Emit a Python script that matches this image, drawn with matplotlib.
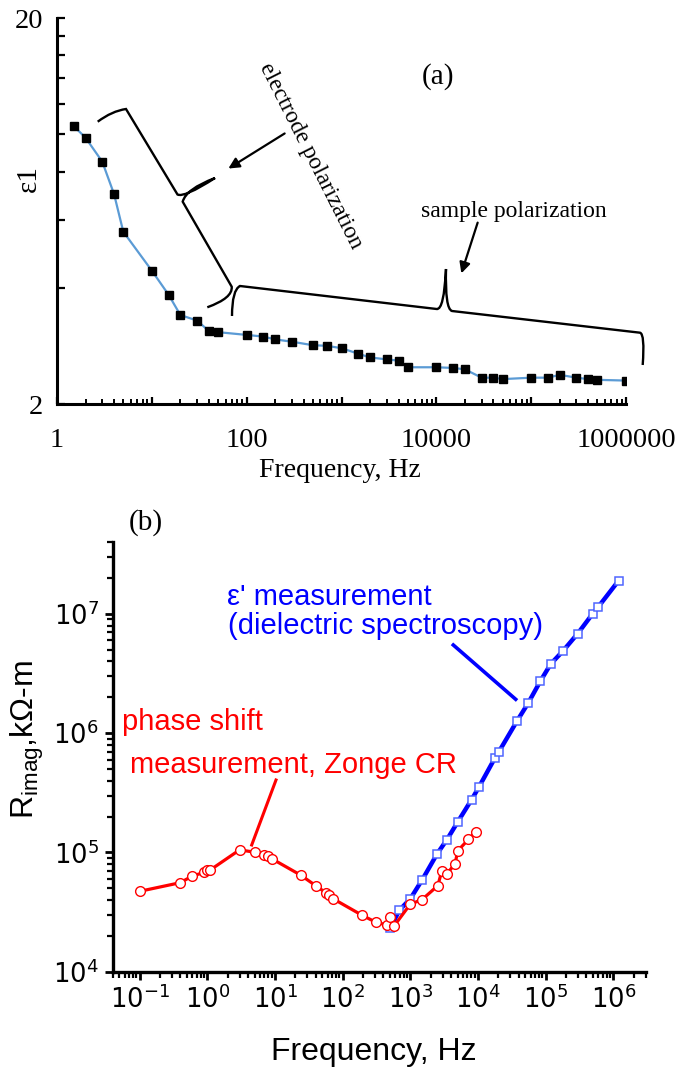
import matplotlib
matplotlib.use('Agg')
import matplotlib.pyplot as plt
import numpy as np
from matplotlib.path import Path
from matplotlib.patches import PathPatch, FancyArrowPatch
from matplotlib.lines import Line2D
from matplotlib.ticker import FixedLocator, NullFormatter, FuncFormatter, LogFormatterMathtext

plt.rcParams['mathtext.fontset'] = 'custom'
plt.rcParams['mathtext.rm'] = 'Liberation Sans'
plt.rcParams['mathtext.it'] = 'Liberation Sans:italic'
plt.rcParams['mathtext.bf'] = 'Liberation Sans:bold'

W, H = 692, 1069
SERIF = 'Liberation Serif'
SANS = 'Liberation Sans'

# ---------------- data: panel (a) ----------------
freq_a = [1.5, 2, 3, 4, 5, 10, 15, 20, 30, 40, 50, 100, 150, 200, 300, 500, 700,
          1000, 1500, 2000, 3000, 4000, 5000, 1e4, 1.5e4, 2e4, 3e4, 4e4, 5e4,
          1e5, 1.5e5, 2e5, 3e5, 4e5, 5e5, 1e6]
eps1 = [10.5, 9.79, 8.49, 6.99, 5.59, 4.43, 3.84, 3.40, 3.29, 3.09, 3.07, 3.02,
        2.99, 2.94, 2.90, 2.84, 2.83, 2.79, 2.70, 2.64, 2.61, 2.59, 2.49, 2.49,
        2.48, 2.46, 2.34, 2.34, 2.32, 2.34, 2.34, 2.38, 2.34, 2.32, 2.31, 2.30]
a_xticks_major = [1, 10, 100, 1000, 1e4, 1e5, 1e6]
a_yticks_major = [2, 20]
a_yticks_minor = [4, 6, 8, 10, 12, 14, 16, 18]

# ---------------- data: panel (b) ----------------
freq_zonge = [0.1, 0.4, 0.6, 0.9, 1.0, 1.1, 3.0, 5.0, 7.0, 8.0, 9.0, 24, 40, 56, 64,
              72, 193, 314, 451, 511, 578, 1000, 1500, 2560, 2930, 3510, 4600, 5040,
              7240, 9310]
R_zonge = [47200, 55800, 63400, 68000, 71600, 71100, 105000, 100600, 94400, 92600,
           88600, 64600, 52700, 46100, 44000, 41000, 29800, 25900, 24700, 28500,
           24200, 36800, 40300, 52700, 70300, 66400, 80500, 103300, 128500, 149700]

freq_ds = [505, 693, 1007, 1510, 2500, 3500, 5000, 8070, 10300, 17800, 20400, 37900,
           55100, 83700, 119400, 179500, 299000, 498000, 597000, 1.2e6]
R_ds = [23300, 32800, 41000, 59200, 97500, 128400, 179100, 277200, 351300, 618000,
        698000, 1.267e6, 1.78e6, 2.73e6, 3.81e6, 4.87e6, 6.85e6, 1.006e7, 1.14e7, 1.9e7]
b_xexp = [-1, 0, 1, 2, 3, 4, 5, 6]
b_yexp = [4, 5, 6, 7]


def fp(x, y):
    """image pixel -> figure fraction"""
    return (x / W, 1 - y / H)


def minor_log(exps, lo, hi):
    out = []
    for e in range(min(exps) - 2, max(exps) + 2):
        for m in range(2, 10):
            v = m * 10.0 ** e
            if lo <= v <= hi:
                out.append(v)
    return out


fig = plt.figure(figsize=(W / 100, H / 100), dpi=100)

# ================= panel (a) =================
ax = fig.add_axes([57 / W, 1 - 404 / H, (626 - 57) / W, (404 - 18) / H])
ax.set_xscale('log')
ax.set_yscale('log')
ax.plot(freq_a, eps1, color='#5b9bd5', lw=1.6, zorder=2)
ax.plot(freq_a, eps1, ls='none', marker='s', ms=6.3, mfc='black', mec='black', zorder=3)
ax.set_xlim(1, 1e6)
ax.set_ylim(2, 20)
for s in ('top', 'right'):
    ax.spines[s].set_visible(False)
for s in ('left', 'bottom'):
    ax.spines[s].set_linewidth(2.2)
ax.yaxis.set_major_locator(FixedLocator(a_yticks_major))
ax.yaxis.set_minor_locator(FixedLocator(a_yticks_minor))
ax.yaxis.set_major_formatter(FuncFormatter(lambda v, p: f'{v:g}'))
ax.yaxis.set_minor_formatter(NullFormatter())
ax.xaxis.set_major_locator(FixedLocator(a_xticks_major))
ax.xaxis.set_minor_locator(FixedLocator(minor_log([0, 6], 1, 1e6)))
ax.xaxis.set_major_formatter(FuncFormatter(
    lambda v, p: f'{int(round(v))}' if int(round(np.log10(v))) % 2 == 0 else ''))
ax.xaxis.set_minor_formatter(NullFormatter())
ax.tick_params(axis='y', which='both', direction='in', length=6, width=1.6, pad=10,
               labelsize=20.5, labelfontfamily=SERIF)
ax.tick_params(axis='x', which='major', direction='in', length=5, width=1.6, pad=17,
               labelsize=20.5, labelfontfamily=SERIF)
ax.tick_params(axis='x', which='minor', direction='in', length=3.5, width=1.4)
ax.set_xlabel('Frequency, Hz', fontsize=20, family=SERIF)
ax.xaxis.set_label_coords(0.497, -0.171)
ax.xaxis.label.set_va('center')
ax.set_ylabel('ε1', fontsize=21, family=SERIF, va='center')
ax.yaxis.set_label_coords(-0.05, 0.585)

fig.text(*fp(438, 77), '(a)', fontsize=21, family=SERIF, ha='center', va='center')
fig.text(*fp(311, 156), 'electrode polarization', fontsize=17, family=SERIF,
         rotation=-63.2, rotation_mode='anchor', ha='center', va='center')
fig.text(*fp(514, 212), 'sample polarization', fontsize=17, family=SERIF,
         ha='center', va='center')

# arrows
fig.add_artist(FancyArrowPatch(
    fp(287, 132), fp(226, 170), transform=fig.transFigure, arrowstyle='-|>',
    mutation_scale=16, lw=1.6, color='black'))
fig.add_artist(FancyArrowPatch(
    fp(478.5, 220), fp(460.5, 276), transform=fig.transFigure, arrowstyle='-|>',
    mutation_scale=16, lw=1.6, color='black'))


# braces
def brace(verts, codes):
    pts = [fp(*v) for v in verts]
    fig.add_artist(PathPatch(Path(pts, codes), transform=fig.transFigure,
                             fill=False, lw=1.7, color='black'))


M, L, C = Path.MOVETO, Path.LINETO, Path.CURVE3
brace([(97.7, 121.7), (112, 111), (126, 109), (177.5, 194.5), (184, 198), (215, 178),
       (186, 189), (182.7, 201.7), (231.7, 286.7), (233, 298), (207.3, 307.3)],
      [M, C, C, L, C, C, C, C, L, C, C])
brace([(232, 316), (232, 290), (240, 286), (436.7, 309), (444, 310), (446, 269),
       (445, 309), (452, 311), (640, 332.7), (645, 334), (642.7, 365)],
      [M, C, C, L, C, C, C, C, L, C, C])

# ================= panel (b) =================
bx = fig.add_axes([112.5 / W, 1 - 971.7 / H, (645.7 - 112.5) / W, (971.7 - 541.7) / H])
bx.set_xscale('log')
bx.set_yscale('log')
bx.plot(freq_ds, R_ds, color='#0000ff', lw=3.2, zorder=2)
bx.plot(freq_ds, R_ds, ls='none', marker='s', ms=6.4, mfc='white', mec='#4f66ff',
        mew=1.1, zorder=3)
bx.plot(freq_zonge, R_zonge, color='#ff0000', lw=2.3, zorder=4)
bx.plot(freq_zonge, R_zonge, ls='none', marker='o', ms=7.0, mfc='white', mec='#ff0000',
        mew=1.0, zorder=5)
xlo, xhi = 10 ** -1.40, 10 ** 6.48
ylo, yhi = 1e4, 10 ** 7.606
bx.set_xlim(xlo, xhi)
bx.set_ylim(ylo, yhi)
for s in ('top', 'right'):
    bx.spines[s].set_visible(False)
for s in ('left', 'bottom'):
    bx.spines[s].set_linewidth(2.4)
bx.xaxis.set_major_locator(FixedLocator([10.0 ** e for e in b_xexp]))
bx.xaxis.set_minor_locator(FixedLocator(minor_log(b_xexp, xlo, xhi)))
bx.yaxis.set_major_locator(FixedLocator([10.0 ** e for e in b_yexp]))
bx.yaxis.set_minor_locator(FixedLocator(minor_log(b_yexp, ylo, yhi)))
bx.xaxis.set_major_formatter(LogFormatterMathtext())
bx.yaxis.set_major_formatter(LogFormatterMathtext())
bx.xaxis.set_minor_formatter(NullFormatter())
bx.yaxis.set_minor_formatter(NullFormatter())
bx.tick_params(which='major', direction='out', length=6, width=2.0, labelsize=18.5)
bx.tick_params(which='minor', direction='out', length=4, width=1.6)
bx.tick_params(axis='x', which='major', pad=4)
bx.tick_params(axis='y', which='major', pad=4)
bx.set_xlabel('Frequency, Hz', fontsize=23, family=SANS)
bx.xaxis.set_label_coords(0.490, -0.186)
bx.xaxis.label.set_va('center')
bx.set_ylabel(r'R$_{\mathrm{imag}}$,kΩ-m', fontsize=23, family=SANS, va='center')
bx.yaxis.set_label_coords(-0.159, 0.539)

fig.text(*fp(146, 523), '(b)', fontsize=21, family=SERIF, ha='center', va='center')
fig.text(*fp(227, 597), "ε' measurement", fontsize=21, family=SANS, color='#0000ff',
         ha='left', va='center')
fig.text(*fp(227.5, 626.5), "(dielectric spectroscopy)", fontsize=21, family=SANS,
         color='#0000ff', ha='left', va='center')
fig.text(*fp(121.7, 722), "phase shift", fontsize=21, family=SANS, color='#ff0000',
         ha='left', va='center')
fig.text(*fp(130, 765), "measurement, Zonge CR", fontsize=21, family=SANS,
         color='#ff0000', ha='left', va='center')

p1, p2 = fp(453.3, 645), fp(515.7, 699.3)
fig.add_artist(Line2D([p1[0], p2[0]], [p1[1], p2[1]], transform=fig.transFigure,
                      color='#0000ff', lw=2.6))
p1, p2 = fp(276, 780), fp(251.7, 845)
fig.add_artist(Line2D([p1[0], p2[0]], [p1[1], p2[1]], transform=fig.transFigure,
                      color='#ff0000', lw=2.2))

fig.savefig('out.png', dpi=100)
